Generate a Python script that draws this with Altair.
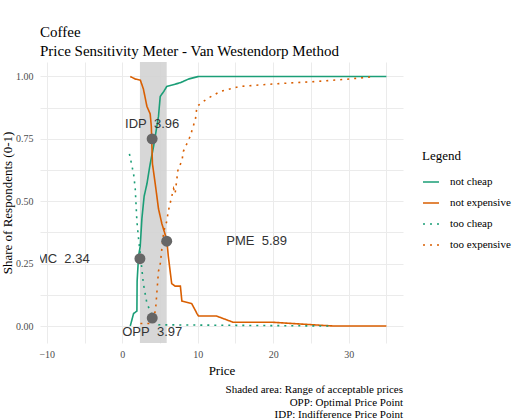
import altair as alt
import pandas as pd

# ---- data ----
series_names = ["not cheap", "not expensive", "too cheap", "too expensive"]
series_colors = ["#1b9e77", "#d95f02", "#1b9e77", "#d95f02"]

nc_price = [1.06, 1.5, 1.94, 1.97, 2.16, 2.38, 2.6, 2.9, 3.27, 3.7, 4.15, 4.8, 5.03, 5.5, 5.9, 7.7, 8.8, 10.1, 35.0]
nc_share = [0.0, 0.05, 0.06, 0.18, 0.28, 0.32, 0.43, 0.52, 0.57, 0.65, 0.72, 0.84, 0.92, 0.94, 0.96, 0.975, 0.99, 1.0, 1.0]

ne_price = [1.06, 1.7, 2.4, 2.8, 3.27, 3.7, 3.85, 4.0, 4.37, 4.8, 5.25, 5.9, 6.1, 6.55, 7.0, 7.7, 7.9, 9.2, 9.9, 10.1, 12.5, 14.7, 20.0, 22.6, 25.3, 28.0, 35.0]
ne_share = [1.0, 0.99, 0.985, 0.95, 0.88, 0.85, 0.80, 0.65, 0.57, 0.47, 0.41, 0.345, 0.28, 0.17, 0.16, 0.16, 0.10, 0.09, 0.05, 0.04, 0.04, 0.015, 0.015, 0.01, 0.005, 0.0, 0.0]

tc_price = [0.95, 1.5, 1.72, 1.94, 2.16, 2.38, 2.8, 3.27, 3.93, 4.8, 27.5]
tc_share = [0.69, 0.61, 0.55, 0.42, 0.35, 0.29, 0.17, 0.09, 0.045, 0.005, 0.0]

te_price = [2.4, 3.7, 4.4, 4.8, 5.0, 5.5, 5.9, 6.1, 6.8, 7.0, 7.4, 7.9, 8.1, 9.0, 9.7, 9.9, 11.2, 13.0, 15.6, 20.0, 25.7, 30.2, 33.5]
te_share = [0.01, 0.01, 0.06, 0.22, 0.24, 0.38, 0.42, 0.46, 0.55, 0.53, 0.63, 0.66, 0.70, 0.76, 0.83, 0.88, 0.91, 0.94, 0.96, 0.97, 0.98, 0.99, 1.0]

point_names = ["PMC", "OPP", "IDP", "PME"]
point_price = [2.34, 3.97, 3.96, 5.89]
point_share = [0.27, 0.032, 0.75, 0.34]
point_labels = ["PMC\u00a0\u00a02.34", "OPP\u00a0\u00a03.97", "IDP\u00a0\u00a03.96", "PME\u00a0\u00a05.89"]

range_low, range_high = 2.34, 5.89

x_ticks = [-10, -5, 0, 5, 10, 15, 20, 25, 30, 35]
y_ticks = [0, 0.125, 0.25, 0.375, 0.5, 0.625, 0.75, 0.875, 1.0]

title_lines = ["Coffee", "Price Sensitivity Meter - Van Westendorp Method"]
caption_lines = ["Shaded area: Range of acceptable prices",
                 "OPP: Optimal Price Point",
                 "IDP: Indifference Price Point"]

# ---- tables ----
rows = []
for name, px, sh in zip(series_names,
                        [nc_price, ne_price, tc_price, te_price],
                        [nc_share, ne_share, tc_share, te_share]):
    for i, (p, s) in enumerate(zip(px, sh)):
        rows.append({"series": name, "price": p, "share": s, "idx": i})
lines_df = pd.DataFrame(rows)

pts_df = pd.DataFrame({"name": point_names, "price": point_price,
                       "share": point_share, "label": point_labels})
rect_df = pd.DataFrame({"lo": [range_low], "hi": [range_high]})

W, H = 363, 281
SERIF = "Liberation Serif"
SANS = "Liberation Sans"

xs = alt.Scale(domain=[-10.9, 37.2], nice=False, zero=False)
ys = alt.Scale(domain=[-0.068, 1.058], nice=False, zero=False)

x_axis = alt.Axis(title="Price", values=x_ticks,
                  labelExpr="datum.value % 10 === 0 ? datum.label : ''",
                  grid=True, domain=False, ticks=False,
                  labelFont=SERIF, labelFontSize=10, labelColor="#4d4d4d",
                  labelPadding=6, titleFont=SERIF, titleFontSize=13,
                  titleFontWeight="normal", titleColor="black", titlePadding=5)
y_axis = alt.Axis(title="Share of Respondents (0-1)", values=y_ticks,
                  labelExpr="(datum.value * 4) % 1 === 0 ? format(datum.value, '.2f') : ''",
                  grid=True, domain=False, ticks=False,
                  labelFont=SERIF, labelFontSize=10, labelColor="#4d4d4d",
                  labelPadding=7, titleFont=SERIF, titleFontSize=13,
                  titleFontWeight="normal", titleColor="black", titlePadding=1)

legend = alt.Legend(title="Legend", orient="none", legendX=382, legendY=88, padding=0,
                    symbolType="stroke", symbolSize=256, symbolStrokeWidth=1.6,
                    titleFont=SERIF, titleFontSize=13, titleFontWeight="normal",
                    titleColor="black", titlePadding=11,
                    labelFont=SERIF, labelFontSize=11, labelColor="black",
                    labelOffset=10, rowPadding=5, clipHeight=16, labelLimit=300)

rect = alt.Chart(rect_df).mark_rect(color="#d3d3d3", opacity=0.9).encode(
    x=alt.X("lo:Q", scale=xs, axis=x_axis),
    x2="hi:Q",
    y=alt.value(0), y2=alt.value(H),
)

lines = alt.Chart(lines_df).mark_line(strokeWidth=1.6).encode(
    x=alt.X("price:Q", scale=xs, axis=x_axis),
    y=alt.Y("share:Q", scale=ys, axis=y_axis),
    color=alt.Color("series:N",
                    scale=alt.Scale(domain=series_names, range=series_colors),
                    legend=legend),
    strokeDash=alt.StrokeDash("series:N",
                              scale=alt.Scale(domain=series_names,
                                              range=[[1, 0], [1, 0], [2, 5], [2, 5]]),
                              legend=legend),
    order="idx:Q",
)

points = alt.Chart(pts_df).mark_circle(size=120, color="#666666", opacity=1).encode(
    x=alt.X("price:Q", scale=xs, axis=x_axis),
    y=alt.Y("share:Q", scale=ys, axis=y_axis),
)

offsets = {"PMC": (-81, 0), "OPP": (0, 14), "IDP": (0, -15), "PME": (90, 0)}
texts = []
for nm, (dx, dy) in offsets.items():
    texts.append(
        alt.Chart(pts_df).transform_filter(alt.datum.name == nm)
        .mark_text(dx=dx, dy=dy, clip=True, font=SANS, fontSize=13, color="#333333")
        .encode(x=alt.X("price:Q", scale=xs, axis=x_axis),
                y=alt.Y("share:Q", scale=ys, axis=y_axis),
                text="label:N")
    )

caption = alt.Chart(pd.DataFrame({"k": [0]})).mark_text(
    align="right", baseline="top", font=SERIF, fontSize=11, color="black",
    lineHeight=12.5,
).encode(x=alt.value(W), y=alt.value(H + 41), text=alt.value(caption_lines))

chart = alt.layer(rect, lines, points, *texts, caption).properties(
    width=W, height=H,
    title=alt.TitleParams(text=title_lines, anchor="start", frame="group",
                          font=SERIF, fontSize=15, fontWeight="normal",
                          color="black", lineHeight=19, offset=3),
    autosize=alt.AutoSizeParams(type="none"),
    padding={"left": 40, "top": 62, "right": 114, "bottom": 77},
).configure_view(stroke=None).configure_axis(
    gridColor="#ebebeb", gridWidth=1
)

chart.save("out.html", embed_options={"renderer": "svg", "actions": False})
